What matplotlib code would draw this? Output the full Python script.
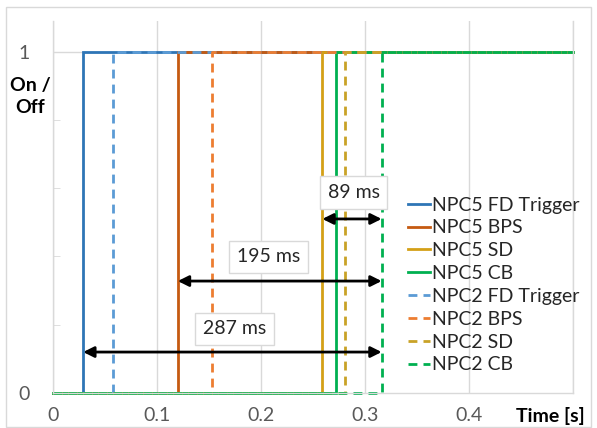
import matplotlib
matplotlib.use("Agg")
import matplotlib.pyplot as plt
from matplotlib.patches import Rectangle

# switching times of each signal [s]
labels = ["NPC5 FD Trigger", "NPC5 BPS", "NPC5 SD", "NPC5 CB",
          "NPC2 FD Trigger", "NPC2 BPS", "NPC2 SD", "NPC2 CB"]
t_on = [0.029, 0.120, 0.259, 0.272, 0.058, 0.153, 0.281, 0.316]
colors = ["#2E75B6", "#C55A11", "#D4A017", "#00B050",
          "#5B9BD5", "#ED7D31", "#C9A227", "#00B050"]
styles = ["-", "-", "-", "-", "--", "--", "--", "--"]

# delay annotations: (start, end, arrow height, text)
delays = [(0.259, 0.316, 0.51, "89 ms"),
          (0.120, 0.316, 0.328, "195 ms"),
          (0.029, 0.316, 0.12, "287 ms")]
box_pos = [(0.289, 0.587), (0.207, 0.399), (0.1745, 0.188)]

t_end = 0.5
fs = 14

plt.rcParams['font.family'] = ['Lato', 'DejaVu Sans']

fig = plt.figure(figsize=(5.97, 4.28), dpi=100)
ax = fig.add_axes([53/597, 1 - 393/428, 520/597, 372/428])

for t, c, ls, lab in zip(t_on, colors, styles, labels):
    line, = ax.plot([0, t, t, t_end], [0, 0, 1, 1], color=c, linestyle=ls,
                    lw=2, label=lab, solid_joinstyle='miter', clip_on=False)
    if ls == "--":
        line.set_dashes((3.2, 2.2))

for (a, b, y, txt), (bx, by) in zip(delays, box_pos):
    ax.annotate('', xy=(b, y), xytext=(a, y),
                arrowprops=dict(arrowstyle='<|-|>', color='black', lw=2,
                                mutation_scale=16, shrinkA=0, shrinkB=0))
    ax.text(bx, by, txt, ha='center', va='center', fontsize=fs, color='#262626',
            bbox=dict(boxstyle='square,pad=0.4', fc='white', ec='#d9d9d9', lw=1))

ax.set_xlim(0, t_end)
ax.set_ylim(0, 1.09)
ax.set_xticks([0, 0.1, 0.2, 0.3, 0.4, 0.5])
ax.set_xticklabels(["0", "0.1", "0.2", "0.3", "0.4", ""])
ax.set_yticks([0, 1])
ax.set_yticks([0.2, 0.4, 0.6, 0.8], minor=True)
ax.tick_params(axis='x', length=0, pad=10, labelsize=fs, labelcolor='#595959')
ax.tick_params(axis='y', which='major', length=0, pad=17, labelsize=fs, labelcolor='#595959')
ax.tick_params(axis='y', which='minor', direction='in', length=5, color='#d9d9d9')
ax.grid(True, axis='x', color='#d9d9d9', lw=1)
ax.axhline(1, color='#d9d9d9', lw=1, zorder=0)
ax.set_axisbelow(True)
ax.spines['top'].set_visible(False)
for s in ['left', 'right', 'bottom']:
    ax.spines[s].set_color('#d9d9d9')
    ax.spines[s].set_linewidth(1)

ax.legend(loc='upper left', bbox_to_anchor=(0.683, 0.528), frameon=False,
          fontsize=fs, handlelength=1.13, handletextpad=0.1, labelspacing=0.3,
          borderpad=0, borderaxespad=0, labelcolor='#262626')

fig.text(30/597, 1 - 85/428, "On /", ha='center', va='center', fontsize=fs, fontweight='bold')
fig.text(30/597, 1 - 108/428, "Off", ha='center', va='center', fontsize=fs, fontweight='bold')
fig.text(550/597, 1 - 416/428, "Time [s]", ha='center', va='center', fontsize=fs, fontweight='bold')

fig.patches.append(Rectangle((6/597, 1 - 427/428), 585/597, 420/428, transform=fig.transFigure,
                             fill=False, ec='#d9d9d9', lw=1))

fig.savefig("out.png", dpi=100)
